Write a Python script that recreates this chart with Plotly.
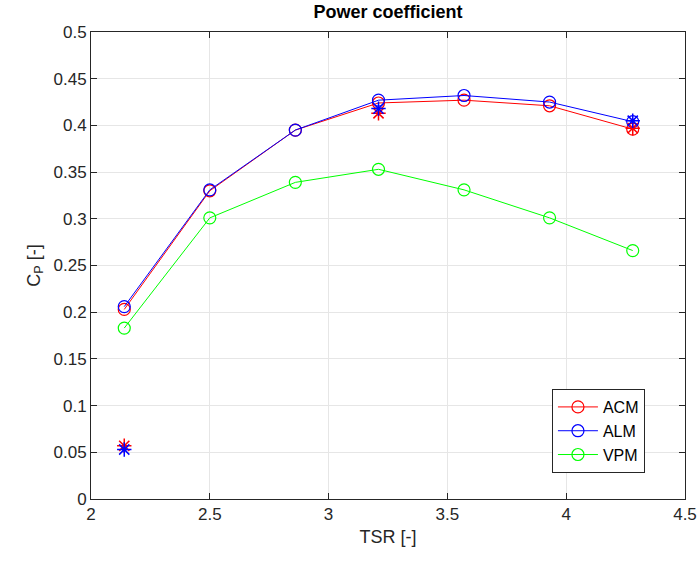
import plotly.graph_objects as go

tsr = [2.14, 2.50, 2.86, 3.21, 3.57, 3.93, 4.28]
acm = [0.203, 0.330, 0.395, 0.424, 0.427, 0.421, 0.396]
alm = [0.206, 0.331, 0.395, 0.427, 0.432, 0.425, 0.404]
vpm = [0.183, 0.301, 0.339, 0.353, 0.331, 0.301, 0.266]

ref_tsr = [2.14, 3.21, 4.28]
ref_acm = [0.057, 0.413, 0.397]
ref_alm = [0.053, 0.418, 0.405]

xticks = [2, 2.5, 3, 3.5, 4, 4.5]
xtick_text = ["2", "2.5", "3", "3.5", "4", "4.5"]
yticks = [0, 0.05, 0.1, 0.15, 0.2, 0.25, 0.3, 0.35, 0.4, 0.45, 0.5]
ytick_text = ["0", "0.05", "0.1", "0.15", "0.2", "0.25", "0.3", "0.35", "0.4", "0.45", "0.5"]

FONT = "Liberation Sans, Arial, sans-serif"

fig = go.Figure()
for name, vals, col in [("ACM", acm, "#ff0000"), ("ALM", alm, "#0000ff"), ("VPM", vpm, "#00ff00")]:
    fig.add_trace(go.Scatter(x=tsr, y=vals, name=name, mode="lines+markers",
                             line=dict(color=col, width=1),
                             marker=dict(symbol="circle-open", size=12, color=col, line=dict(width=1.2))))
for vals, col in [(ref_acm, "#ff0000"), (ref_alm, "#0000ff")]:
    fig.add_trace(go.Scatter(x=ref_tsr, y=vals, mode="markers", showlegend=False,
                             marker=dict(symbol="asterisk-open", size=12, color=col, line=dict(width=1.5, color=col))))

axis_common = dict(showgrid=True, gridcolor="#e6e6e6", gridwidth=1, zeroline=False,
                   showline=True, linecolor="#262626", linewidth=1, mirror="ticks",
                   ticks="inside", ticklen=6, tickcolor="#262626", automargin=False,
                   tickfont=dict(size=17, color="#262626", family=FONT))

fig.update_layout(
    width=699, height=562,
    margin=dict(l=91, r=14, t=32, b=63),
    paper_bgcolor="white", plot_bgcolor="white",
    font=dict(family=FONT, color="#262626"),
    title=dict(text="<b>Power coefficient</b>", x=0.5, xanchor="center", xref="paper",
               y=1, yref="container", yanchor="top", pad=dict(t=5),
               font=dict(size=18, color="#000000", family=FONT)),
    xaxis=dict(range=[2, 4.5], tickvals=xticks, ticktext=xtick_text,
               title=dict(text="TSR [-]", font=dict(size=18, color="#262626", family=FONT), standoff=6),
               **axis_common),
    yaxis=dict(range=[0, 0.5], tickvals=yticks, ticktext=ytick_text,
               title=dict(text="C<sub>P</sub> [-]", font=dict(size=18, color="#262626", family=FONT), standoff=8),
               **axis_common),
    legend=dict(x=0.776, y=0.2355, xanchor="left", yanchor="top",
                bgcolor="white", bordercolor="#262626", borderwidth=1,
                font=dict(size=16, color="#000000", family=FONT), tracegroupgap=0, itemwidth=40),
    showlegend=True,
)

fig.write_html("out.html")
